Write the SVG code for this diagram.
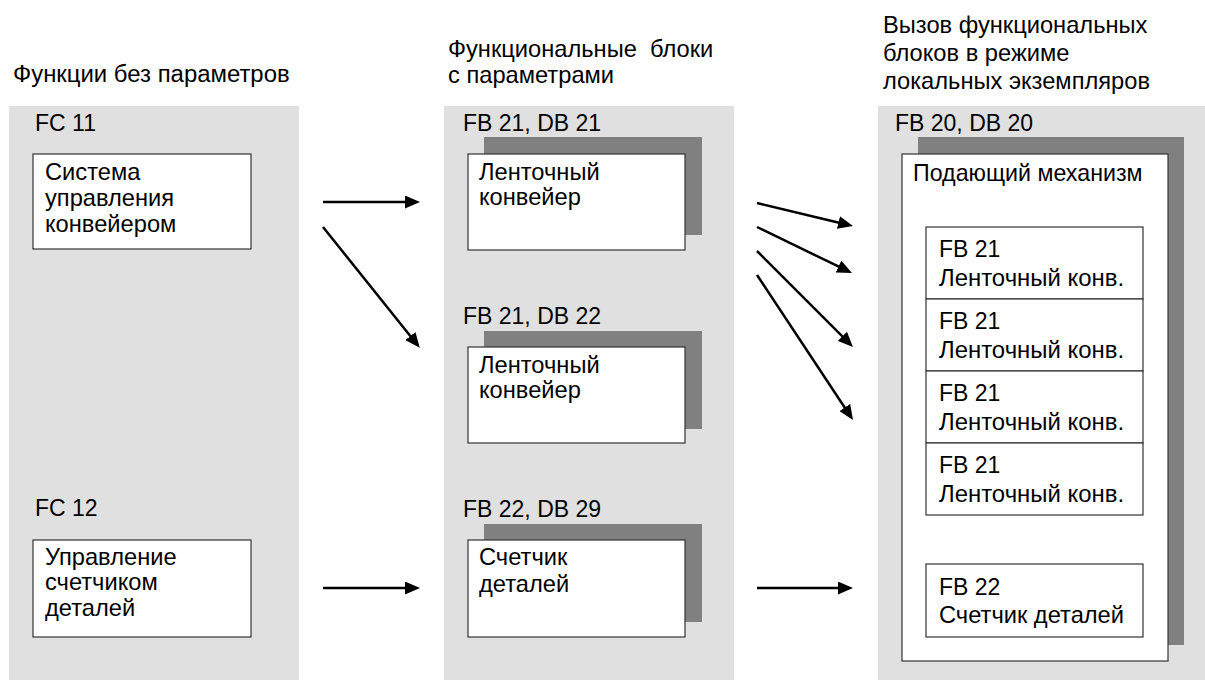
<svg xmlns="http://www.w3.org/2000/svg" width="1205" height="680" viewBox="0 0 1205 680">
<style>
  .panel { fill: #e0e0e0; }
  .shadow { fill: #808080; }
  .box { fill: #ffffff; stroke: #333333; stroke-width: 1.2; }
  .t { font-family: "Liberation Sans", Arial, sans-serif; font-size: 23px; fill: #000000; }
  .conn { stroke: #000000; stroke-width: 2.5; fill: none; marker-end: url(#arrow); }
</style>
<defs>
  <marker id="arrow" markerUnits="userSpaceOnUse" markerWidth="15" markerHeight="13" refX="5" refY="6.5" orient="auto">
    <path d="M0,0 L15,6.5 L0,13 z" fill="#000000"/>
  </marker>
</defs>
<rect width="1205" height="680" fill="#ffffff"/>

<g id="titles">
  <text class="t" transform="translate(13,82) scale(1.04,1)">Функции без параметров</text>
  <text class="t" transform="translate(448,57) scale(1.03,1)"><tspan x="0" y="0" xml:space="preserve">Функциональные  блоки</tspan><tspan x="0" y="26">с параметрами</tspan></text>
  <text class="t" transform="translate(883,33) scale(1.03,1)"><tspan x="0" y="0">Вызов функциональных</tspan><tspan x="0" y="28">блоков в режиме</tspan><tspan x="0" y="56">локальных экземпляров</tspan></text>
</g>

<g id="panel1">
  <rect class="panel" x="9" y="106" width="290" height="574"/>
</g>
<g id="panel2">
  <rect class="panel" x="444" y="106" width="290" height="574"/>
</g>
<g id="panel3">
  <rect class="panel" x="878" y="106" width="327" height="574"/>
</g>

<g id="fc11">
  <text class="t" x="35" y="131">FC 11</text>
  <rect class="box" x="33" y="154" width="218" height="95"/>
  <text class="t" transform="translate(45,180) scale(1.03,1)"><tspan x="0" y="0">Система</tspan><tspan x="0" y="26">управления</tspan><tspan x="0" y="52">конвейером</tspan></text>
</g>

<g id="fc12">
  <text class="t" x="35" y="516">FC 12</text>
  <rect class="box" x="33" y="540" width="218" height="97"/>
  <text class="t" transform="translate(45,565) scale(1.03,1)"><tspan x="0" y="0">Управление</tspan><tspan x="0" y="25">счетчиком</tspan><tspan x="0" y="51">деталей</tspan></text>
</g>

<g id="fb21db21">
  <text class="t" x="463" y="131">FB 21, DB 21</text>
  <rect class="shadow" x="484" y="137" width="218" height="98"/>
  <rect class="box" x="468" y="154" width="217" height="96"/>
  <text class="t" transform="translate(479,180) scale(1.03,1)"><tspan x="0" y="0">Ленточный</tspan><tspan x="0" y="25">конвейер</tspan></text>
</g>

<g id="fb21db22">
  <text class="t" x="463" y="324">FB 21, DB 22</text>
  <rect class="shadow" x="484" y="331" width="218" height="98"/>
  <rect class="box" x="468" y="347" width="217" height="96"/>
  <text class="t" transform="translate(479,373) scale(1.03,1)"><tspan x="0" y="0">Ленточный</tspan><tspan x="0" y="25">конвейер</tspan></text>
</g>

<g id="fb22db29">
  <text class="t" x="463" y="517">FB 22, DB 29</text>
  <rect class="shadow" x="484" y="524" width="218" height="98"/>
  <rect class="box" x="468" y="540" width="217" height="97"/>
  <text class="t" transform="translate(479,565) scale(1.03,1)"><tspan x="0" y="0">Счетчик</tspan><tspan x="0" y="27">деталей</tspan></text>
</g>

<g id="fb20db20">
  <text class="t" x="895" y="131">FB 20, DB 20</text>
  <rect class="shadow" x="918" y="137" width="266" height="508"/>
  <rect class="box" x="902" y="154" width="266" height="507"/>
  <text class="t" transform="translate(913,181) scale(1.01,1)">Подающий механизм</text>
</g>

<g id="inst1">
  <rect class="box" x="926" y="227" width="217" height="72"/>
  <text class="t" x="939" y="257">FB 21</text>
  <text class="t" transform="translate(939,286) scale(1.04,1)">Ленточный конв.</text>
</g>
<g id="inst2">
  <rect class="box" x="926" y="299" width="217" height="72"/>
  <text class="t" x="939" y="329">FB 21</text>
  <text class="t" transform="translate(939,358) scale(1.04,1)">Ленточный конв.</text>
</g>
<g id="inst3">
  <rect class="box" x="926" y="371" width="217" height="72"/>
  <text class="t" x="939" y="401">FB 21</text>
  <text class="t" transform="translate(939,430) scale(1.04,1)">Ленточный конв.</text>
</g>
<g id="inst4">
  <rect class="box" x="926" y="443" width="217" height="72"/>
  <text class="t" x="939" y="473">FB 21</text>
  <text class="t" transform="translate(939,502) scale(1.04,1)">Ленточный конв.</text>
</g>
<g id="inst5">
  <rect class="box" x="926" y="564" width="217" height="73"/>
  <text class="t" x="939" y="595">FB 22</text>
  <text class="t" transform="translate(939,623) scale(1.03,1)">Счетчик деталей</text>
</g>

<g id="connectors">
  <line class="conn" x1="323" y1="202" x2="410" y2="202"/>
  <line class="conn" x1="323" y1="227" x2="413.5" y2="340"/>
  <line class="conn" x1="323" y1="588" x2="410" y2="588"/>
  <line class="conn" x1="757" y1="203" x2="843.3" y2="223.7"/>
  <line class="conn" x1="757" y1="227" x2="843" y2="268.7"/>
  <line class="conn" x1="757" y1="251" x2="845.9" y2="339.9"/>
  <line class="conn" x1="757" y1="275" x2="847.5" y2="411.7"/>
  <line class="conn" x1="757" y1="588" x2="843" y2="588"/>
</g>
</svg>
